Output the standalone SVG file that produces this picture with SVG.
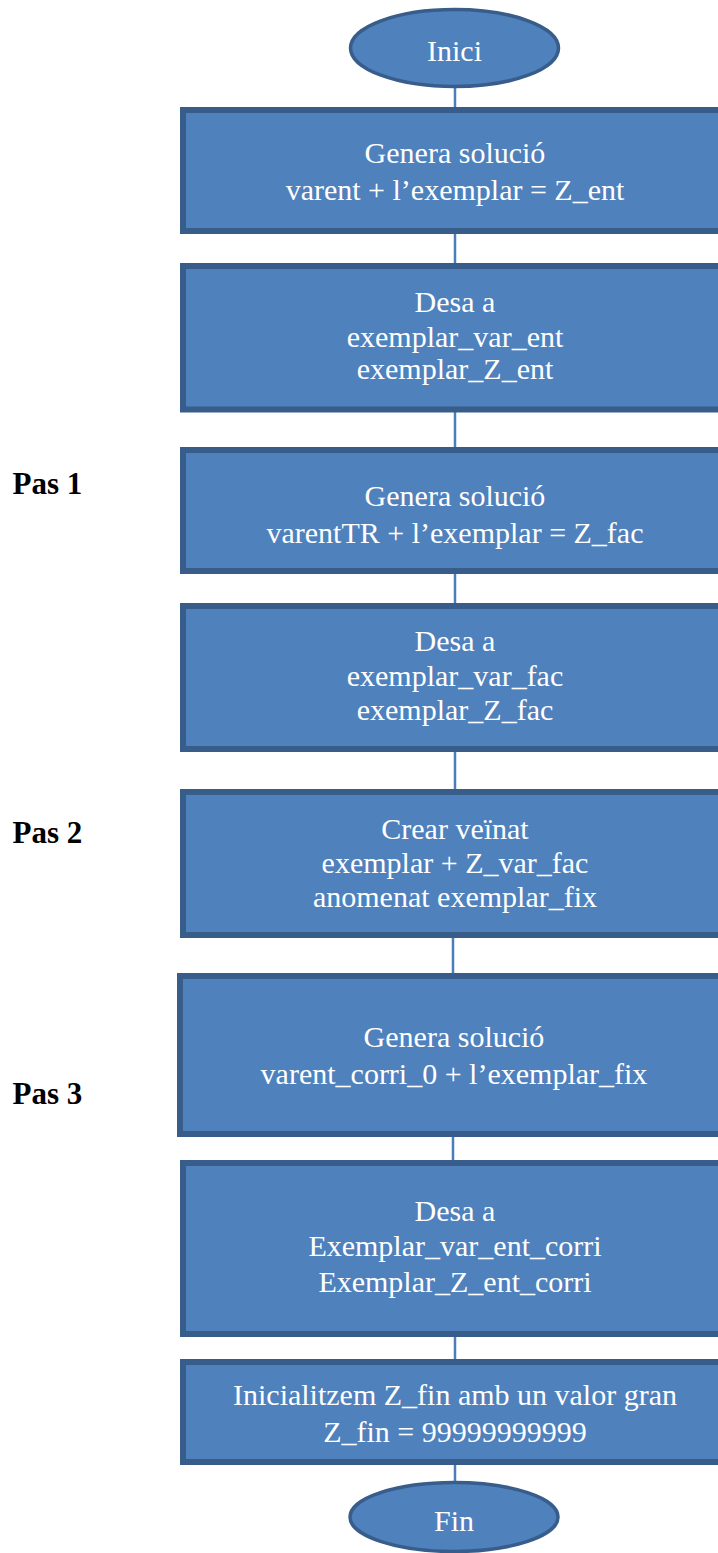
<svg xmlns="http://www.w3.org/2000/svg" width="718" height="1553" viewBox="0 0 718 1553">
<style>
.box{fill:#4F81BD;stroke:#385D8A;stroke-width:6}
.term{fill:#4F81BD;stroke:#385D8A;stroke-width:3.5}
.t{font-family:"Liberation Serif","Times New Roman",serif;font-size:30px;fill:#FFFFFF;text-anchor:middle}
.pas{font-family:"Liberation Serif","Times New Roman",serif;font-size:31px;font-weight:bold;fill:#000000}
.c{stroke:#4A7EBB;stroke-width:2.5;fill:none}
</style>
<rect width="718" height="1553" fill="#FFFFFF"/>
<g id="connectors">
<line class="c" x1="455" y1="88" x2="455" y2="110"/>
<line class="c" x1="455" y1="231" x2="455" y2="266"/>
<line class="c" x1="455" y1="409" x2="455" y2="450"/>
<line class="c" x1="455" y1="571" x2="455" y2="606"/>
<line class="c" x1="455" y1="749" x2="455" y2="792"/>
<line class="c" x1="453" y1="935" x2="453" y2="976"/>
<line class="c" x1="453" y1="1134" x2="453" y2="1163"/>
<line class="c" x1="455" y1="1334" x2="455" y2="1362"/>
<line class="c" x1="455" y1="1462" x2="455" y2="1483"/>
</g>
<g id="inici">
<ellipse class="term" cx="454.5" cy="48" rx="104" ry="38.5"/>
<text class="t" x="454.5" y="60.5">Inici</text>
</g>
<g id="box1">
<rect class="box" x="183" y="110" width="545" height="121"/>
<text class="t" x="455" y="163">Genera solució</text>
<text class="t" x="455" y="200">varent + l’exemplar = Z_ent</text>
</g>
<g id="box2">
<rect class="box" x="183" y="266" width="545" height="143.5"/>
<text class="t" x="455" y="312">Desa a</text>
<text class="t" x="455" y="346.5">exemplar_var_ent</text>
<text class="t" x="455" y="379">exemplar_Z_ent</text>
</g>
<g id="box3">
<rect class="box" x="183" y="450" width="545" height="121"/>
<text class="t" x="455" y="506">Genera solució</text>
<text class="t" x="455" y="543">varentTR + l’exemplar = Z_fac</text>
</g>
<g id="box4">
<rect class="box" x="183" y="606" width="545" height="143"/>
<text class="t" x="455" y="651">Desa a</text>
<text class="t" x="455" y="685.5">exemplar_var_fac</text>
<text class="t" x="455" y="720">exemplar_Z_fac</text>
</g>
<g id="box5">
<rect class="box" x="183" y="792" width="545" height="143"/>
<text class="t" x="455" y="839">Crear veïnat</text>
<text class="t" x="455" y="872.5">exemplar + Z_var_fac</text>
<text class="t" x="455" y="906.5">anomenat exemplar_fix</text>
</g>
<g id="box6">
<rect class="box" x="180" y="976" width="548" height="158"/>
<text class="t" x="454" y="1046.5">Genera solució</text>
<text class="t" x="454" y="1084">varent_corri_0 + l’exemplar_fix</text>
</g>
<g id="box7">
<rect class="box" x="183" y="1163" width="545" height="171"/>
<text class="t" x="455" y="1221">Desa a</text>
<text class="t" x="455" y="1256">Exemplar_var_ent_corri</text>
<text class="t" x="455" y="1292">Exemplar_Z_ent_corri</text>
</g>
<g id="box8">
<rect class="box" x="183" y="1362" width="545" height="100"/>
<text class="t" x="455" y="1405">Inicialitzem Z_fin amb un valor gran</text>
<text class="t" x="455" y="1441.5">Z_fin = 99999999999</text>
</g>
<g id="fin">
<ellipse class="term" cx="454" cy="1517" rx="104" ry="34.5"/>
<text class="t" x="454" y="1530.5">Fin</text>
</g>
<g id="labels">
<text class="pas" x="12.5" y="494">Pas 1</text>
<text class="pas" x="12.5" y="843">Pas 2</text>
<text class="pas" x="12.5" y="1104">Pas 3</text>
</g>
</svg>
